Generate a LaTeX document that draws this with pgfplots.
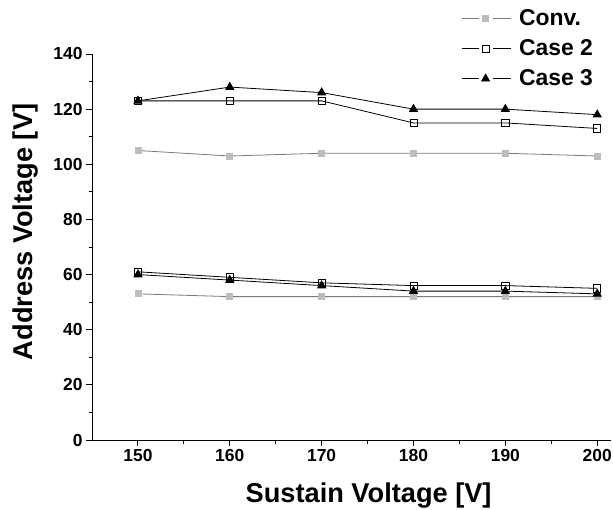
\documentclass[border=0pt]{standalone}
\usepackage{pgfplots}
\pgfplotsset{compat=1.18}
\usepackage{fontspec}
\setmainfont{Liberation Sans}
\definecolor{convfill}{HTML}{BDBDBD}
\definecolor{convline}{HTML}{7A7A7A}
\begin{document}
\begin{tikzpicture}
\path[use as bounding box] (0,0) rectangle (613bp,510bp);
\begin{axis}[
  at={(92bp,70bp)}, anchor=south west,
  scale only axis, width=519bp, height=386bp,
  xmin=145, xmax=201.5, ymin=0, ymax=140,
  axis x line*=bottom, axis y line*=left,
  axis line style={line width=0.9pt},
  tick align=outside,
  major tick length=6bp, minor tick length=3.5bp,
  tick style={line width=0.9pt, black},
  xtick={150,160,...,200}, ytick={0,20,...,140},
  minor x tick num=1, minor y tick num=1,
  /pgf/number format/assume math mode=true,
  ticklabel style={font=\bfseries\fontsize{17.5}{17.5}\selectfont},
  xlabel={Sustain Voltage [V]}, ylabel={Address Voltage [V]},
  every axis x label/.style={at={(axis description cs:0.533,-0.163)}, anchor=base,
    font=\bfseries\fontsize{27.3}{27.3}\selectfont},
  every axis y label/.style={at={(axis description cs:-0.1137,0.539)}, rotate=90, anchor=base,
    font=\bfseries\fontsize{27.3}{27.3}\selectfont},
  legend style={draw=none, fill=none, inner sep=0pt,
    at={(axis description cs:0.711,1.119)}, anchor=north west,
    font=\bfseries\fontsize{23}{23}\selectfont, row sep=9bp, column sep=8bp,
    nodes={inner sep=0pt, text height=17bp, text depth=4bp}},
  legend cell align=left,
  legend image code/.code={
    \draw[#1,mark=none] (0bp,0bp) -- (17bp,0bp);
    \draw[#1,mark=none] (31bp,0bp) -- (49bp,0bp);
    \draw[#1] plot coordinates {(24bp,0bp)};
  },
]
% conventional driving
\addplot[convline, line width=0.8pt, mark=square*, mark size=3bp,
  mark options={fill=convfill, draw=convfill, solid}]
  coordinates {(150,105) (160,103) (170,104) (180,104) (190,104) (200,103)};
\addlegendentry{Conv.}
% case 2
\addplot[black, line width=0.8pt, mark=square, mark size=3.6bp,
  mark options={fill=white, draw=black, line width=0.8pt}]
  coordinates {(150,123) (160,123) (170,123) (180,115) (190,115) (200,113)};
\addlegendentry{Case 2}
% case 3
\addplot[black, line width=0.8pt, mark=triangle*, mark size=4.6bp,
  mark options={fill=black}]
  coordinates {(150,123) (160,128) (170,126) (180,120) (190,120) (200,118)};
\addlegendentry{Case 3}
% lower branch
\addplot[forget plot, convline, line width=0.8pt, mark=square*, mark size=3bp,
  mark options={fill=convfill, draw=convfill, solid}]
  coordinates {(150,53) (160,52) (170,52) (180,52) (190,52) (200,52)};
\addplot[forget plot, black, line width=0.8pt, mark=square, mark size=3.6bp,
  mark options={fill=white, draw=black, line width=0.8pt}]
  coordinates {(150,61) (160,59) (170,57) (180,56) (190,56) (200,55)};
\addplot[forget plot, black, line width=0.8pt, mark=triangle*, mark size=4.6bp,
  mark options={fill=black}]
  coordinates {(150,60) (160,58) (170,56) (180,54) (190,54) (200,53)};
\end{axis}
\end{tikzpicture}
\end{document}
